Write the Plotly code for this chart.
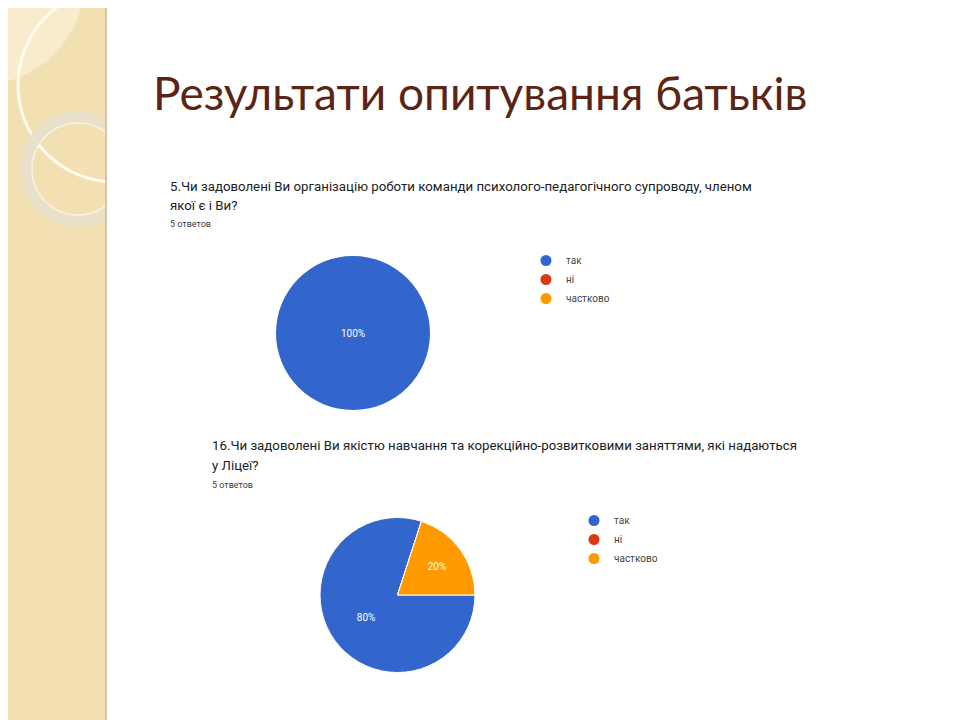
#%% Packages
import plotly.graph_objects as go

#%% Data
labels = ['так', 'ні', 'частково']
colors = ['#3366cc', '#dc3912', '#ff9900']

q5_text = ['5.Чи задоволені Ви організацію роботи команди психолого-педагогічного супроводу, членом',
           'якої є і Ви?']
q5_values = [5, 0, 0]

q16_text = ['16.Чи задоволені Ви якістю навчання та корекційно-розвитковими заняттями, які надаються',
            'у Ліцеї?']
q16_values = [4, 0, 1]

answers_note = '5 ответов'
title = 'Результати опитування батьків'

W, H = 960, 720
OFF = 8  # page body margin, so screen pixels are shifted back by this

def px_x(v):
    return (v - OFF) / W

def px_y(v):
    return 1 - (v - OFF) / H

def pct_text(values):
    tot = sum(values)
    return [f'{round(v / tot * 100)}%' if v else '' for v in values]

#%% Figure
fig = go.Figure()

# pies
fig.add_trace(go.Pie(labels=labels, values=q5_values, marker=dict(colors=colors, line=dict(width=0)),
                     text=pct_text(q5_values), textinfo='text', textposition='inside', sort=False,
                     direction='clockwise', rotation=90, showlegend=False, hoverinfo='label+percent',
                     insidetextfont=dict(color='white', size=10, family='Roboto'),
                     domain=dict(x=[px_x(276), px_x(430)], y=[px_y(410), px_y(256)])))
fig.add_trace(go.Pie(labels=labels, values=q16_values, marker=dict(colors=colors, line=dict(color='white', width=1)),
                     text=pct_text(q16_values), textinfo='text', textposition='inside', sort=False,
                     direction='clockwise', rotation=90, showlegend=False, hoverinfo='label+percent',
                     insidetextfont=dict(color='white', size=10, family='Roboto'),
                     domain=dict(x=[px_x(320), px_x(475)], y=[px_y(673), px_y(517)])))

# legend entries with round markers
for lg in ['legend', 'legend2']:
    for lab, col in zip(labels, colors):
        fig.add_trace(go.Scatter(x=[None], y=[None], mode='markers', name=lab, legend=lg,
                                 marker=dict(color=col, size=11, symbol='circle')))

# left decorative strip
def circ(cx, cy, r, **kw):
    return dict(type='circle', xref='paper', yref='paper', x0=px_x(cx - r), x1=px_x(cx + r),
                y0=px_y(cy + r), y1=px_y(cy - r), layer='below', **kw)

shapes = [
    dict(type='rect', xref='paper', yref='paper', x0=px_x(0), x1=px_x(106), y0=px_y(730), y1=px_y(0),
         fillcolor='#f2e0b3', line_width=0, layer='below'),
    circ(-20, -20, 105, fillcolor='rgba(255,250,235,0.45)', line_width=0),
    circ(115, 85, 97, fillcolor='rgba(0,0,0,0)', line=dict(color='rgba(255,252,240,0.95)', width=3)),
    circ(78, 169, 52, fillcolor='rgba(0,0,0,0)', line=dict(color='rgba(232,224,204,0.9)', width=12)),
    circ(78, 169, 46, fillcolor='rgba(0,0,0,0)', line=dict(color='rgba(250,246,232,0.9)', width=1.5)),
    dict(type='rect', xref='paper', yref='paper', x0=px_x(106), x1=px_x(970), y0=px_y(730), y1=px_y(0),
         fillcolor='white', line_width=0, layer='below'),
    dict(type='line', xref='paper', yref='paper', x0=px_x(106), x1=px_x(106), y0=px_y(730), y1=px_y(0),
         line=dict(color='#d2c6a4', width=2), layer='below'),
]

ann = [dict(text=title, x=px_x(151), y=px_y(92), xref='paper', yref='paper', xanchor='left', yanchor='middle',
            showarrow=False, font=dict(family='Lato', size=46, color='#5b2414'))]

def question(lines, x, y):
    out = []
    for i, line in enumerate(lines):
        out.append(dict(text=line, x=px_x(x), y=px_y(y + i * 19.5), xref='paper', yref='paper',
                        xanchor='left', yanchor='middle', showarrow=False,
                        font=dict(family='Roboto', size=13.25, color='#202124')))
    out.append(dict(text=answers_note, x=px_x(x), y=px_y(y + 38.5), xref='paper', yref='paper',
                    xanchor='left', yanchor='middle', showarrow=False,
                    font=dict(family='Roboto', size=9, color='#3c4043')))
    return out

ann += question(q5_text, 168, 186)
ann += question(q16_text, 210, 446)

legend_style = dict(xref='paper', yref='paper', xanchor='left', yanchor='top', bgcolor='rgba(0,0,0,0)',
                    font=dict(family='Roboto', size=10, color='#444444'), itemclick=False,
                    tracegroupgap=0)

fig.update_layout(
    width=W, height=H, margin=dict(l=0, r=0, t=0, b=0),
    paper_bgcolor='white', plot_bgcolor='rgba(0,0,0,0)',
    xaxis=dict(visible=False), yaxis=dict(visible=False),
    shapes=shapes, annotations=ann,
    legend=dict(x=px_x(526), y=px_y(246), **legend_style),
    legend2=dict(x=px_x(574), y=px_y(506), **legend_style),
)

fig.write_html('out.html')
